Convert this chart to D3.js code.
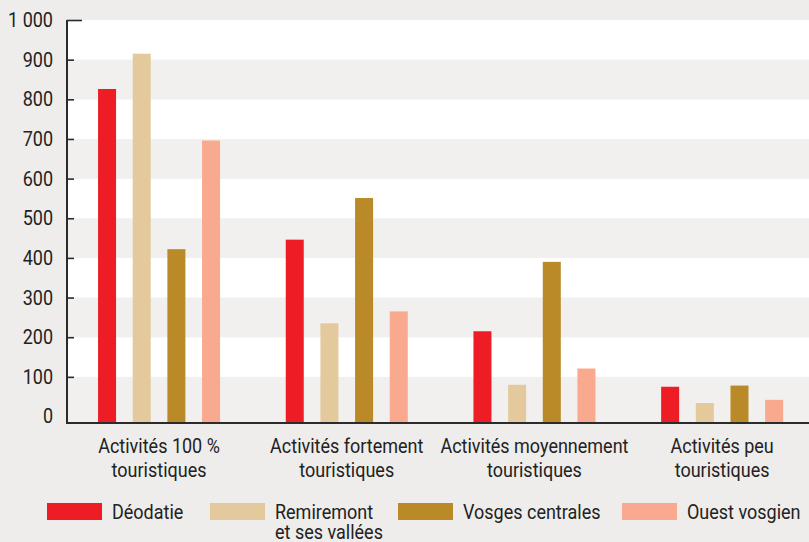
<!DOCTYPE html>
<html>
<head>
<meta charset="utf-8">
<script src="https://cdn.jsdelivr.net/npm/d3@7"></script>
<style>
  body { margin: 0; background: #eeedeb; }
  svg { display: block; font-family: Roboto, "Open Sans", sans-serif; }
</style>
</head>
<body>
<svg id="chart"></svg>
<script>
var w = 809;
var h = 542;

var categories = [
  ['Activités 100 %', 'touristiques'],
  ['Activités fortement', 'touristiques'],
  ['Activités moyennement', 'touristiques'],
  ['Activités peu', 'touristiques']
];
var series = ['Déodatie', 'Remiremont', 'Vosges centrales', 'Ouest vosgien'];
var colors = ['#ee1c25', '#e3c99b', '#b98a27', '#f8a98e'];
var deodatie = [826, 446, 215, 75];
var remiremont = [915, 235, 80, 34];
var vosgesCentrales = [422, 551, 390, 78];
var ouestVosgien = [696, 265, 121, 42];
var yTicks = [0, 100, 200, 300, 400, 500, 600, 700, 800, 900, 1000];

var values = [deodatie, remiremont, vosgesCentrales, ouestVosgien];

var axisX = 67;
var baseY = 423;
var sx = 0.9; // condensed look

function squeeze(ax) {
  return 'translate(' + ax + ',0) scale(' + sx + ',1) translate(' + (-ax) + ',0)';
}

var svg = d3.select('#chart').attr('width', w).attr('height', h);

var y = d3.scaleLinear().domain([0, 1000]).range([416.5, 20]);
var x0 = d3.scaleBand().domain(d3.range(categories.length)).range([65.2, 816]);
var x1 = d3.scaleLinear().domain([0, 3]).range([-52, 52]);

// background bands
svg.append('rect').attr('x', 0).attr('y', 0).attr('width', w).attr('height', h).attr('fill', '#eeedeb');
svg.selectAll('rect.band')
  .data(d3.range(10))
  .enter()
  .append('rect')
  .attr('class', 'band')
  .attr('x', axisX)
  .attr('width', w - axisX)
  .attr('y', function (d) { return y(d * 100 + 100); })
  .attr('height', function (d) {
    var bot = d === 0 ? baseY : y(d * 100);
    return bot - y(d * 100 + 100);
  })
  .attr('fill', function (d) { return d % 2 === 0 ? '#f1f0ee' : '#ffffff'; });

// bars
var groups = svg.selectAll('g.grp')
  .data(categories)
  .enter()
  .append('g')
  .attr('transform', function (d, i) { return 'translate(' + (x0(i) + x0.bandwidth() / 2) + ',0)'; });

groups.selectAll('rect')
  .data(function (d, i) { return values.map(function (s) { return s[i]; }); })
  .enter()
  .append('rect')
  .attr('x', function (d, j) { return x1(j) - 9; })
  .attr('width', 18)
  .attr('y', function (d) { return y(d); })
  .attr('height', function (d) { return baseY - y(d); })
  .attr('fill', function (d, j) { return colors[j]; });

// y axis
var yAxis = d3.axisRight(y).tickValues(yTicks).tickSize(7).tickFormat('');
var ga = svg.append('g').attr('transform', 'translate(' + axisX + ',0)').call(yAxis);
ga.select('.domain').remove();
ga.selectAll('line').attr('stroke', '#2b2b2b').attr('stroke-width', 1.6);
ga.selectAll('.tick').filter(function (d) { return d === 0; }).remove();
ga.selectAll('.tick').filter(function (d) { return d === 1000; }).select('line').attr('x2', 15);

svg.append('line').attr('x1', axisX).attr('x2', axisX).attr('y1', 20).attr('y2', baseY + 1)
  .attr('stroke', '#2b2b2b').attr('stroke-width', 2);
svg.append('line').attr('x1', axisX - 1).attr('x2', w).attr('y1', baseY).attr('y2', baseY)
  .attr('stroke', '#2b2b2b').attr('stroke-width', 2.2);

svg.selectAll('text.ylab')
  .data(yTicks)
  .enter()
  .append('text')
  .attr('class', 'ylab')
  .attr('x', 53)
  .attr('y', function (d) { return y(d) + 7; })
  .attr('text-anchor', 'end')
  .attr('font-size', '20px')
  .attr('fill', '#222')
  .attr('transform', squeeze(53))
  .text(function (d) { return d === 1000 ? '1 000' : d; });

// category labels
function cx(d, i) { return x0(i) + x0.bandwidth() / 2; }
var cl = svg.selectAll('text.cat')
  .data(categories)
  .enter()
  .append('text')
  .attr('class', 'cat')
  .attr('text-anchor', 'middle')
  .attr('font-size', '20px')
  .attr('fill', '#222')
  .attr('transform', function (d, i) { return squeeze(cx(d, i)); });
cl.append('tspan').attr('y', 453).attr('x', cx).text(function (d) { return d[0]; });
cl.append('tspan').attr('y', 477).attr('x', cx).text(function (d) { return d[1]; });

// legend
var legX = [47, 210, 398, 622];
var leg = svg.selectAll('g.leg')
  .data(series)
  .enter()
  .append('g')
  .attr('transform', function (d, i) { return 'translate(' + legX[i] + ',503)'; });
leg.append('rect').attr('width', 55).attr('height', 17)
  .attr('fill', function (d, i) { return colors[i]; });
leg.append('text')
  .attr('x', 65)
  .attr('y', 16)
  .attr('font-size', '20px')
  .attr('fill', '#222')
  .attr('transform', squeeze(65))
  .text(function (d) { return d; });
leg.filter(function (d, i) { return i === 1; })
  .append('text')
  .attr('x', 65)
  .attr('y', 36)
  .attr('font-size', '20px')
  .attr('fill', '#222')
  .attr('transform', squeeze(65))
  .text('et ses vallées');
</script>
</body>
</html>
